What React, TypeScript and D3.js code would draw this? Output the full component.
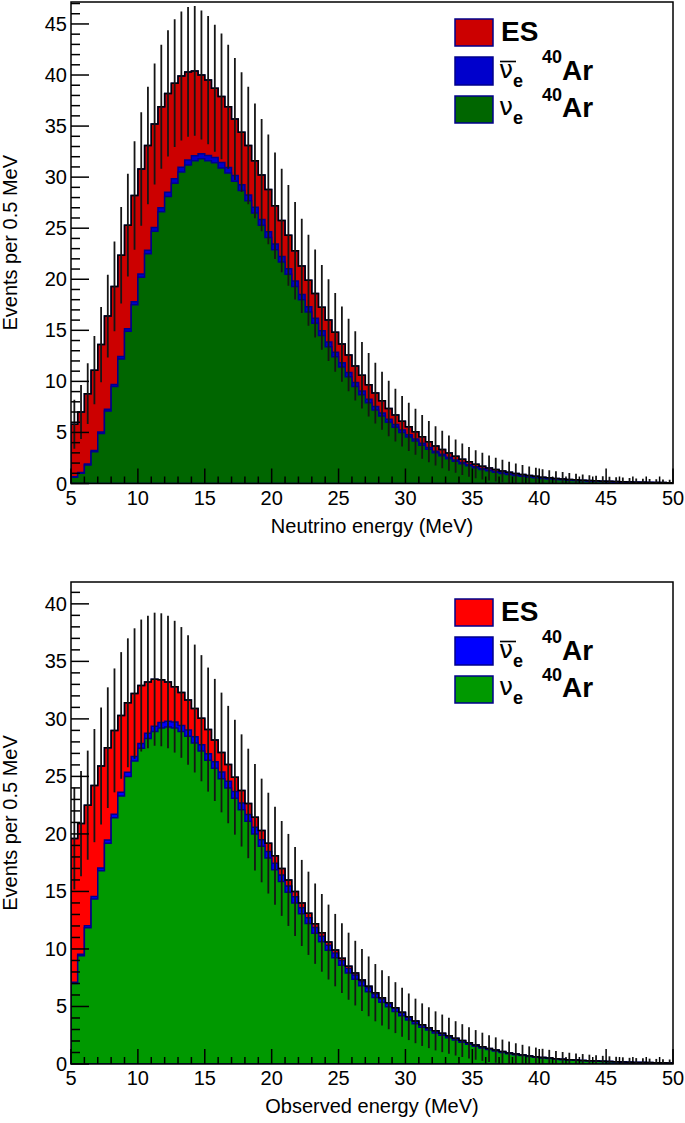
import React from 'react';
import * as d3 from 'd3';

// ---------- data ----------
const binEdges: number[] = d3.range(91).map((i) => 5 + i * 0.5); // 0.5 MeV bins, 5..50 MeV
const xTicksMajor = [5, 10, 15, 20, 25, 30, 35, 40, 45, 50];
const legendLabels = ['ES', 'ν̄e 40Ar', 'νe 40Ar'];

// Top panel: Neutrino energy
const topNue = [0.6,1.0,1.8,3.1,4.9,7.1,9.5,12.2,14.9,17.5, 20.2,22.5,24.7,26.6,28.1,29.4,30.5,31.2,31.6,31.8, 31.6,31.4,30.9,30.4,29.6,28.7,27.7,26.5,25.3,24.1, 22.9,21.7,20.5,19.3,18.0,16.8,15.7,14.5,13.4,12.4, 11.4,10.45,9.5,8.7,7.9,7.2,6.6,6.0,5.5,5.0, 4.55,4.15,3.75,3.35,3.0,2.72,2.43,2.19,1.94,1.73, 1.54,1.38,1.24,1.11,0.99,0.89,0.79,0.71,0.63,0.57, 0.5,0.45,0.4,0.36,0.32,0.29,0.26,0.23,0.21,0.185, 0.17,0.15,0.135,0.12,0.105,0.095,0.088,0.08,0.072,0.064];
const topNuebar = [0.05,0.07,0.1,0.12,0.15,0.18,0.2,0.23,0.26,0.29, 0.32,0.35,0.38,0.4,0.42,0.44,0.46,0.48,0.5,0.5, 0.52,0.53,0.54,0.55,0.55,0.56,0.56,0.56,0.56,0.55, 0.55,0.54,0.53,0.52,0.51,0.5,0.49,0.47,0.46,0.45, 0.43,0.41,0.39,0.37,0.35,0.33,0.31,0.29,0.27,0.25, 0.23,0.21,0.19,0.17,0.16,0.15,0.13,0.12,0.11,0.1, 0.09,0.08,0.075,0.07,0.06,0.055,0.05,0.045,0.04,0.036, 0.032,0.029,0.026,0.023,0.02,0.018,0.016,0.014,0.013,0.012, 0.011,0.01,0.009,0.008,0.007,0.007,0.006,0.006,0.005,0.005];
const topES = [5.15,5.93,6.9,7.88,8.55,9.12,9.6,9.92,10.14,10.41, 10.28,10.25,10.12,9.9,9.68,9.36,8.94,8.62,8.3,7.7, 7.38,6.77,6.46,5.95,5.55,5.14,4.84,4.54,4.34,4.15, 3.75,3.51,3.27,2.98,2.79,2.6,2.41,2.28,2.14,1.95, 1.82,1.72,1.62,1.52,1.42,1.32,1.19,1.06,0.93,0.85, 0.77,0.7,0.63,0.58,0.52,0.46,0.42,0.37,0.33,0.29, 0.26,0.24,0.205,0.18,0.17,0.145,0.13,0.115,0.11,0.094, 0.088,0.081,0.074,0.067,0.06,0.052,0.044,0.04,0.037,0.033, 0.029,0.027,0.025,0.022,0.018,0.018,0.016,0.014,0.013,0.011];

// Bottom panel: Observed energy
const botNue = [7.0,9.4,11.85,14.35,16.8,19.2,21.4,23.3,25.0,26.35, 27.45,28.3,28.9,29.2,29.3,29.2,28.9,28.5,27.9,27.2, 26.4,25.7,24.8,24.0,23.1,22.1,21.1,20.0,18.93,17.91, 16.89,15.87,14.94,14.0,13.06,12.22,11.37,10.63,9.88,9.23, 8.58,7.92,7.36,6.8,6.29,5.77,5.36,4.97,4.57,4.2, 3.83,3.5,3.19,2.95,2.69,2.49,2.29,2.08,1.9,1.72, 1.55,1.4,1.25,1.13,1.01,0.9,0.81,0.73,0.65,0.59, 0.53,0.48,0.43,0.38,0.345,0.317,0.29,0.262,0.233,0.214, 0.196,0.177,0.158,0.139,0.13,0.12,0.112,0.102,0.093,0.083];
const botNuebar = [0.1,0.13,0.16,0.2,0.23,0.27,0.3,0.33,0.36,0.39, 0.42,0.45,0.47,0.49,0.5,0.52,0.53,0.54,0.55,0.56, 0.57,0.57,0.58,0.58,0.58,0.58,0.58,0.58,0.57,0.57, 0.56,0.55,0.54,0.53,0.52,0.5,0.49,0.47,0.45,0.43, 0.41,0.39,0.37,0.35,0.33,0.31,0.29,0.27,0.25,0.23, 0.21,0.19,0.18,0.16,0.15,0.14,0.13,0.12,0.11,0.1, 0.09,0.08,0.075,0.07,0.06,0.055,0.05,0.045,0.04,0.036, 0.032,0.029,0.026,0.023,0.021,0.019,0.017,0.015,0.014,0.013, 0.012,0.011,0.01,0.009,0.008,0.008,0.007,0.007,0.006,0.006];
const botES = [12.5,11.37,10.49,9.65,8.87,8.03,7.3,6.67,6.04,5.46, 5.03,4.45,4.08,3.71,3.4,3.08,2.87,2.61,2.45,2.3, 2.1,1.9,1.7,1.45,1.25,1.1,0.97,0.87,0.8,0.72, 0.65,0.58,0.52,0.47,0.42,0.38,0.34,0.3,0.27,0.24, 0.21,0.19,0.17,0.15,0.13,0.12,0.1,0.09,0.08,0.07, 0.065,0.055,0.05,0.045,0.04,0.035,0.03,0.028,0.025,0.022, 0.02,0.018,0.016,0.014,0.012,0.011,0.01,0.009,0.008,0.007, 0.006,0.005,0.005,0.004,0.004,0.004,0.003,0.003,0.003,0.003, 0.002,0.002,0.002,0.002,0.002,0.002,0.001,0.001,0.001,0.001];

const FONT = '"Liberation Sans", Arial, Helvetica, sans-serif';
const OUTLINE = '#00008b';

type PanelProps = {
  id: string;
  top: number;
  bottom: number;
  yMax: number;
  yMajorMax: number;
  nue: number[];
  nuebar: number[];
  es: number[];
  colors: [string, string, string]; // es, nuebar, nue
  xTitle: string;
};

const LEFT = 71;
const RIGHT = 673;

function Panel({ id, top, bottom, yMax, yMajorMax, nue, nuebar, es, colors, xTitle }: PanelProps) {
  const x = d3.scaleLinear().domain([5, 50]).range([LEFT, RIGHT]);
  const y = d3.scaleLinear().domain([0, yMax]).range([bottom, top]);

  const s1 = nue;
  const s2 = nue.map((v, i) => v + nuebar[i]);
  const s3 = s2.map((v, i) => v + es[i]);

  const pts = (vals: number[]) => binEdges.map((e, i) => [e, vals[Math.min(i, vals.length - 1)]] as [number, number]);
  const area = d3
    .area<[number, number]>()
    .x((d) => x(d[0]))
    .y0(y(0))
    .y1((d) => y(d[1]))
    .curve(d3.curveStepAfter);
  const line = d3
    .line<[number, number]>()
    .x((d) => x(d[0]))
    .y((d) => y(d[1]))
    .curve(d3.curveStepAfter);

  const yMinor = d3.range(0, Math.floor(yMax) + 1, 1);
  const yMajor = d3.range(0, yMajorMax + 1, 5);
  const xMinor = d3.range(5, 51, 1);
  const centerY = (top + bottom) / 2;
  const clipId = `clip-${id}`;

  return (
    <g>
      <defs>
        <clipPath id={clipId}>
          <rect x={LEFT} y={top} width={RIGHT - LEFT} height={bottom - top} />
        </clipPath>
      </defs>
      <rect x={LEFT} y={top} width={RIGHT - LEFT} height={bottom - top} fill="#fff" />
      <g clipPath={`url(#${clipId})`}>
        <path d={area(pts(s3)) || ''} fill={colors[0]} stroke={OUTLINE} strokeWidth={1.5} />
        <path d={area(pts(s2)) || ''} fill={colors[1]} stroke={OUTLINE} strokeWidth={1.5} />
        <path d={area(pts(s1)) || ''} fill={colors[2]} stroke={OUTLINE} strokeWidth={1.5} />
        <path d={line(pts(s3)) || ''} fill="none" stroke="#000" strokeWidth={1.5} />
        {s3.map((t, i) => {
          const c = x((binEdges[i] + binEdges[i + 1]) / 2);
          const e = Math.sqrt(t);
          return (
            <line key={i} x1={c} x2={c} y1={y(t - e)} y2={y(t + e)} stroke="#151515" strokeWidth={1.8} />
          );
        })}
      </g>
      {/* frame */}
      <rect x={LEFT} y={top} width={RIGHT - LEFT} height={bottom - top} fill="none" stroke="#000" strokeWidth={1.5} />
      {/* y ticks */}
      {yMinor.map((v) => (
        <line key={`ym${v}`} x1={LEFT} x2={LEFT + (v % 5 === 0 ? 18 : 9)} y1={y(v)} y2={y(v)} stroke="#000" strokeWidth={1.5} />
      ))}
      {yMajor.map((v) => (
        <text key={`yl${v}`} x={67} y={y(v) + 7} textAnchor="end" fontFamily={FONT} fontSize={20} fill="#000">
          {v}
        </text>
      ))}
      {/* x ticks */}
      {xMinor.map((v) => (
        <line key={`xm${v}`} x1={x(v)} x2={x(v)} y1={bottom} y2={bottom - (v % 5 === 0 ? 15 : 7)} stroke="#000" strokeWidth={1.5} />
      ))}
      {xTicksMajor.map((v) => (
        <text key={`xl${v}`} x={x(v)} y={bottom + 21} textAnchor="middle" fontFamily={FONT} fontSize={20} fill="#000">
          {v}
        </text>
      ))}
      <text x={(LEFT + RIGHT) / 2} y={bottom + 49} textAnchor="middle" fontFamily={FONT} fontSize={20} fill="#000">
        {xTitle}
      </text>
      <text
        transform={`translate(17,${centerY}) rotate(-90)`}
        textAnchor="middle"
        fontFamily={FONT}
        fontSize={20}
        fill="#000"
      >
        Events per 0.5 MeV
      </text>
      {/* legend */}
      <g transform={`translate(0,${top - 2})`}>
        <rect x={455} y={19} width={38} height={27} fill={colors[0]} stroke={OUTLINE} strokeWidth={1.5} />
        <text x={501} y={41} fontFamily={FONT} fontWeight="bold" fontSize={28} fill="#000">
          {legendLabels[0]}
        </text>

        <rect x={455} y={57} width={38} height={28} fill={colors[1]} stroke={OUTLINE} strokeWidth={1.5} />
        <line x1={500} x2={516} y1={61.5} y2={61.5} stroke="#000" strokeWidth={1.6} />
        <text x={499} y={78} fill="#000">
          <tspan fontFamily='"DejaVu Sans", sans-serif' fontSize={25}>ν</tspan>
          <tspan fontFamily={FONT} fontWeight="bold" fontSize={18} dy={9}>e</tspan>
        </text>
        <text x={542} y={63} fontFamily={FONT} fontWeight="bold" fontSize={18} fill="#000">40</text>
        <text x={562} y={80} fontFamily={FONT} fontWeight="bold" fontSize={28} fill="#000">Ar</text>

        <rect x={455} y={96} width={38} height={27} fill={colors[2]} stroke={OUTLINE} strokeWidth={1.5} />
        <text x={499} y={115} fill="#000">
          <tspan fontFamily='"DejaVu Sans", sans-serif' fontSize={25}>ν</tspan>
          <tspan fontFamily={FONT} fontWeight="bold" fontSize={18} dy={9}>e</tspan>
        </text>
        <text x={542} y={101} fontFamily={FONT} fontWeight="bold" fontSize={18} fill="#000">40</text>
        <text x={562} y={117} fontFamily={FONT} fontWeight="bold" fontSize={28} fill="#000">Ar</text>
      </g>
    </g>
  );
}

export default function App() {
  return (
    <svg
      width={685}
      height={1123}
      viewBox="0 0 685 1123"
      style={{ position: 'absolute', left: 0, top: 0, display: 'block', background: '#fff' }}
    >
      <rect x={0} y={0} width={685} height={1123} fill="#fff" />
      <Panel
        id="top"
        top={2}
        bottom={483.5}
        yMax={47.15}
        yMajorMax={45}
        nue={topNue}
        nuebar={topNuebar}
        es={topES}
        colors={['#cc0000', '#0000cc', '#006600']}
        xTitle="Neutrino energy (MeV)"
      />
      <Panel
        id="bot"
        top={582}
        bottom={1064}
        yMax={41.9}
        yMajorMax={40}
        nue={botNue}
        nuebar={botNuebar}
        es={botES}
        colors={['#ff0000', '#0000ff', '#009900']}
        xTitle="Observed energy (MeV)"
      />
    </svg>
  );
}
